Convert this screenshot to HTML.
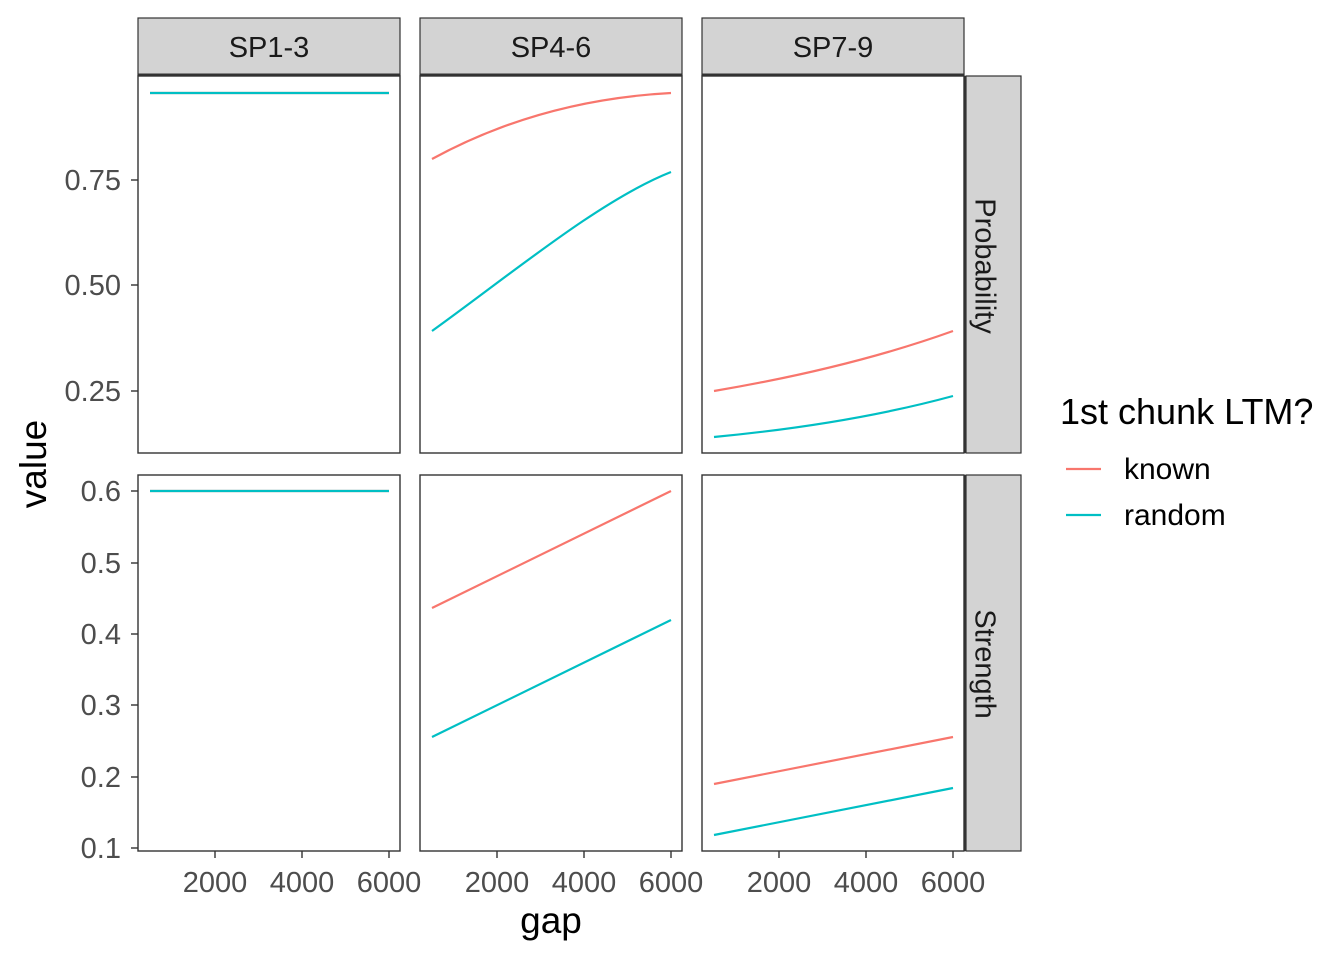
<!DOCTYPE html>
<html><head><meta charset="utf-8"><style>
html,body{margin:0;padding:0;background:#fff;}
svg{display:block;font-family:"Liberation Sans",Arial,sans-serif;}
</style></head><body>
<svg width="1344" height="960" viewBox="0 0 1344 960" xmlns="http://www.w3.org/2000/svg">
<rect width="1344" height="960" fill="#fff"/>
<g fill="#d3d3d3" stroke="#333" stroke-width="1.2">
<rect x="138" y="18" width="262" height="57"/>
<rect x="420" y="18" width="262" height="57"/>
<rect x="702" y="18" width="262" height="57"/>
<rect x="966" y="76" width="55" height="377"/>
<rect x="966" y="475" width="55" height="376"/>
</g>
<g stroke="#333" stroke-width="3">
<line x1="138" y1="75" x2="400" y2="75"/><line x1="420" y1="75" x2="682" y2="75"/><line x1="702" y1="75" x2="964" y2="75"/>
<line x1="965" y1="76" x2="965" y2="453"/><line x1="965" y1="475" x2="965" y2="851"/>
</g>
<g font-size="29" fill="#1a1a1a" text-anchor="middle">
<text x="269" y="57">SP1-3</text><text x="551" y="57">SP4-6</text><text x="833" y="57">SP7-9</text>
<text transform="translate(983,266) rotate(90)" dominant-baseline="middle">Probability</text>
<text transform="translate(983,664) rotate(90)" dominant-baseline="middle">Strength</text>
</g>
<g fill="none" stroke="#333" stroke-width="1.4">
<rect x="138" y="76" width="262" height="377"/><rect x="420" y="76" width="262" height="377"/><rect x="702" y="76" width="262" height="377"/>
<rect x="138" y="475" width="262" height="376"/><rect x="420" y="475" width="262" height="376"/><rect x="702" y="475" width="262" height="376"/>
</g>
<g stroke="#333" stroke-width="1.4">
<line x1="131" x2="138" y1="180" y2="180"/><line x1="131" x2="138" y1="285" y2="285"/><line x1="131" x2="138" y1="391" y2="391"/>
<line x1="131" x2="138" y1="491" y2="491"/><line x1="131" x2="138" y1="563" y2="563"/><line x1="131" x2="138" y1="634" y2="634"/><line x1="131" x2="138" y1="705" y2="705"/><line x1="131" x2="138" y1="777" y2="777"/><line x1="131" x2="138" y1="848" y2="848"/>
<line x1="215" x2="215" y1="851" y2="858"/><line x1="302" x2="302" y1="851" y2="858"/><line x1="389" x2="389" y1="851" y2="858"/>
<line x1="497" x2="497" y1="851" y2="858"/><line x1="584" x2="584" y1="851" y2="858"/><line x1="671" x2="671" y1="851" y2="858"/>
<line x1="779" x2="779" y1="851" y2="858"/><line x1="866" x2="866" y1="851" y2="858"/><line x1="953" x2="953" y1="851" y2="858"/>
</g>
<g font-size="29" fill="#4d4d4d" text-anchor="end">
<text x="121" y="190">0.75</text><text x="121" y="295">0.50</text><text x="121" y="401">0.25</text>
<text x="121" y="501">0.6</text><text x="121" y="573">0.5</text><text x="121" y="644">0.4</text><text x="121" y="715">0.3</text><text x="121" y="787">0.2</text><text x="121" y="858">0.1</text>
</g>
<g font-size="29" fill="#4d4d4d" text-anchor="middle">
<text x="215" y="892">2000</text><text x="302" y="892">4000</text><text x="389" y="892">6000</text>
<text x="497" y="892">2000</text><text x="584" y="892">4000</text><text x="671" y="892">6000</text>
<text x="779" y="892">2000</text><text x="866" y="892">4000</text><text x="953" y="892">6000</text>
</g>
<text x="551" y="933" font-size="37" text-anchor="middle" fill="#000">gap</text>
<text transform="translate(46,464) rotate(-90)" font-size="37" text-anchor="middle" fill="#000">value</text>
<g fill="none" stroke-width="2.2">
<line x1="150" y1="93" x2="389" y2="93" stroke="#F8766D"/>
<line x1="150" y1="93" x2="389" y2="93" stroke="#00BFC4"/>
<line x1="150" y1="491" x2="389" y2="491" stroke="#F8766D"/>
<line x1="150" y1="491" x2="389" y2="491" stroke="#00BFC4"/>
<path d="M432,159 Q540,100 671,93" stroke="#F8766D"/>
<path d="M432,331 C510,275 600,200 671,172" stroke="#00BFC4"/>
<line x1="432" y1="608" x2="671" y2="491" stroke="#F8766D"/>
<line x1="432" y1="737" x2="671" y2="620" stroke="#00BFC4"/>
<path d="M714,391 Q850,368 953,331" stroke="#F8766D"/>
<path d="M714,437 Q850,424 953,396" stroke="#00BFC4"/>
<line x1="714" y1="784" x2="953" y2="737" stroke="#F8766D"/>
<line x1="714" y1="835" x2="953" y2="788" stroke="#00BFC4"/>
</g>
<text x="1060" y="424" font-size="36" fill="#000">1st chunk LTM?</text>
<line x1="1066" x2="1101" y1="469" y2="469" stroke="#F8766D" stroke-width="2.2"/>
<line x1="1066" x2="1101" y1="515" y2="515" stroke="#00BFC4" stroke-width="2.2"/>
<text x="1124" y="479" font-size="30" fill="#000">known</text>
<text x="1124" y="525" font-size="30" fill="#000">random</text>
</svg>
</body></html>
